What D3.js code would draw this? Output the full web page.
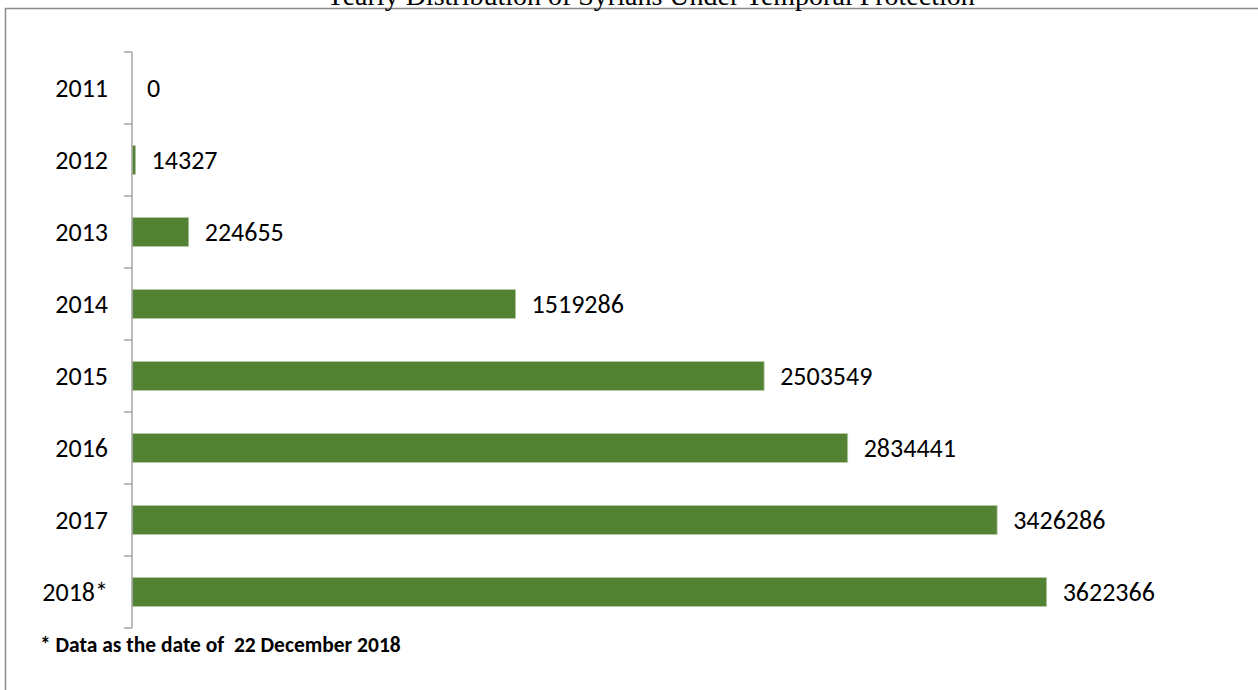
<!DOCTYPE html>
<html>
<head>
<meta charset="utf-8">
<script src="https://cdn.jsdelivr.net/npm/d3@7"></script>
<style>
  html, body { margin: 0; padding: 0; background: #fff; overflow: hidden; }
  svg { display: block; }
</style>
</head>
<body>
<svg id="chart"></svg>
<script>
// Yearly distribution, horizontal bars
const years = ['2011', '2012', '2013', '2014', '2015', '2016', '2017', '2018*'];
const values = [0, 14327, 224655, 1519286, 2503549, 2834441, 3426286, 3622366];
const xMax = 4000000;

const W = 1258, H = 690;
const MARGIN = { top: 52, left: 132 };
const PLOT_W = 1010;
const PLOT_H = 576;
const FONT = 'Carlito, Calibri, Lato, sans-serif';

const svg = d3.select('#chart').attr('width', W).attr('height', H);

// frame (left + top only visible)
svg.append('path')
    .attr('d', `M5.5,${H} L5.5,8.5 L${W},8.5`)
    .attr('fill', 'none')
    .attr('stroke', '#8c8c8c')
    .attr('stroke-width', 1.5);

// title, sits on the frame's top edge
svg.append('text')
    .attr('x', 650)
    .attr('y', 5)
    .attr('text-anchor', 'middle')
    .style('font-family', '"Liberation Serif", "Times New Roman", serif')
    .style('font-size', '28px')
    .style('fill', '#000')
    .text('Yearly Distribution of Syrians Under Temporal Protection');

const g = svg.append('g').attr('transform', `translate(${MARGIN.left},${MARGIN.top})`);

const y = d3.scaleBand().domain(years).range([0, PLOT_H]).paddingInner(0.6).paddingOuter(0.3);
const x = d3.scaleLinear().domain([0, xMax]).range([0, PLOT_W]);

// bars
g.selectAll('rect.bar')
    .data(years)
    .join('rect')
    .attr('class', 'bar')
    .attr('x', 0)
    .attr('y', d => y(d))
    .attr('width', (d, i) => x(values[i]))
    .attr('height', y.bandwidth())
    .attr('fill', '#548235')
    .attr('stroke', (d, i) => values[i] > 0 ? '#b5c9a3' : 'none')
    .attr('stroke-width', 0.8);

// value labels
g.selectAll('text.val')
    .data(years)
    .join('text')
    .attr('class', 'val')
    .attr('x', (d, i) => x(values[i]) + (values[i] > 0 ? 16 : 15))
    .attr('y', d => y(d) + y.bandwidth() / 2)
    .attr('dy', '0.35em')
    .style('font-family', FONT)
    .style('font-size', '26px')
    .style('fill', '#000')
    .text((d, i) => values[i]);

// axis line with ticks between categories
const tickPos = d3.range(years.length + 1).map(i => i * PLOT_H / years.length);
const axis = g.append('g').attr('class', 'axis');
axis.append('line')
    .attr('x1', 0).attr('x2', 0)
    .attr('y1', 0).attr('y2', PLOT_H)
    .attr('stroke', '#a6a6a6').attr('stroke-width', 1.5);
axis.selectAll('line.tick')
    .data(tickPos)
    .join('line')
    .attr('class', 'tick')
    .attr('x1', -8).attr('x2', 0)
    .attr('y1', d => d).attr('y2', d => d)
    .attr('stroke', '#a6a6a6').attr('stroke-width', 1.5);

// category labels
axis.selectAll('text.cat')
    .data(years)
    .join('text')
    .attr('class', 'cat')
    .attr('x', -24)
    .attr('y', d => y(d) + y.bandwidth() / 2)
    .attr('dy', '0.35em')
    .attr('text-anchor', 'end')
    .style('font-family', FONT)
    .style('font-size', '26px')
    .style('fill', '#000')
    .text(d => d);

// footnote
svg.append('text')
    .attr('x', 40)
    .attr('y', 652)
    .style('font-family', FONT)
    .style('font-size', '21.5px')
    .style('font-weight', 'bold')
    .style('fill', '#000')
    .style('white-space', 'pre')
    .text('* Data as the date of  22 December 2018');
</script>
</body>
</html>
